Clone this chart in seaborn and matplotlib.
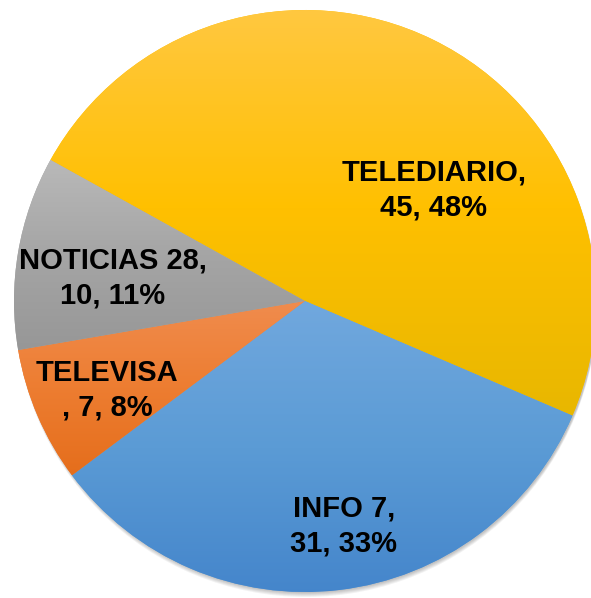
import numpy as np
import matplotlib
matplotlib.use("Agg")
import matplotlib.pyplot as plt
import seaborn as sns
from matplotlib.colors import to_rgb
from matplotlib.patches import Circle

# data
categories = ["TELEDIARIO", "INFO 7", "TELEVISA", "NOTICIAS 28"]
values = [45, 31, 7, 10]
label_texts = ["TELEDIARIO,\n45, 48%", "INFO 7,\n31, 33%", "TELEVISA\n, 7, 8%", "NOTICIAS 28,\n10, 11%"]

# colours (top / middle / bottom of gradient)
base_colors = ["#FFC000", "#5B9BD5", "#ED7D31", "#A5A5A5"]
top_colors = ["#FFC843", "#71A8DE", "#F08C4E", "#B9B9B9"]
bottom_colors = ["#E8B700", "#4485CB", "#E56E1C", "#979797"]

W, H = 591, 598
cx, cy, r = 305, H - 301, 291

sns.set_theme(style="white")
plt.rcParams["font.family"] = ["Liberation Sans", "DejaVu Sans"]

fig = plt.figure(figsize=(W / 100, H / 100), dpi=100)
ax = fig.add_axes([0, 0, 1, 1])

# soft shadow under the pie
for i in range(5):
    ax.add_patch(Circle((cx + 1, cy - 1 - i), r, color="black", alpha=0.05, lw=0, zorder=0))

wedges, _ = ax.pie(values, startangle=151, counterclock=False, center=(cx, cy), radius=r,
                   colors=base_colors, wedgeprops=dict(linewidth=0))

# vertical gradient fill per slice: bottom -> base -> top
for w, top, mid, bot in zip(wedges, top_colors, base_colors, bottom_colors):
    w.set_zorder(1)
    verts = w.get_path().vertices
    y0, y1 = verts[:, 1].min(), verts[:, 1].max()
    t = np.linspace(0, 1, 256)
    stops = np.array([to_rgb(bot), to_rgb(mid), to_rgb(top)])
    grad = np.stack([np.interp(t, [0, 0.5, 1], stops[:, k]) for k in range(3)], axis=-1)
    grad = grad[:, None, :]
    im = ax.imshow(grad, extent=(cx - r, cx + r, y0, y1), origin="lower", aspect="auto",
                   interpolation="bilinear", zorder=2)
    im.set_clip_path(w)

# labels
label_pos = [(434, 190), (344, 526), (107, 390), (113, 278)]
for txt, (x, y) in zip(label_texts, label_pos):
    ax.text(x, H - y, txt, ha="center", va="center", fontsize=21, fontweight="bold",
            color="black", linespacing=1.28, zorder=5)

ax.set_xlim(0, W)
ax.set_ylim(0, H)
ax.set_aspect("auto")
ax.axis("off")

fig.savefig("out.png", dpi=100, facecolor="white")
